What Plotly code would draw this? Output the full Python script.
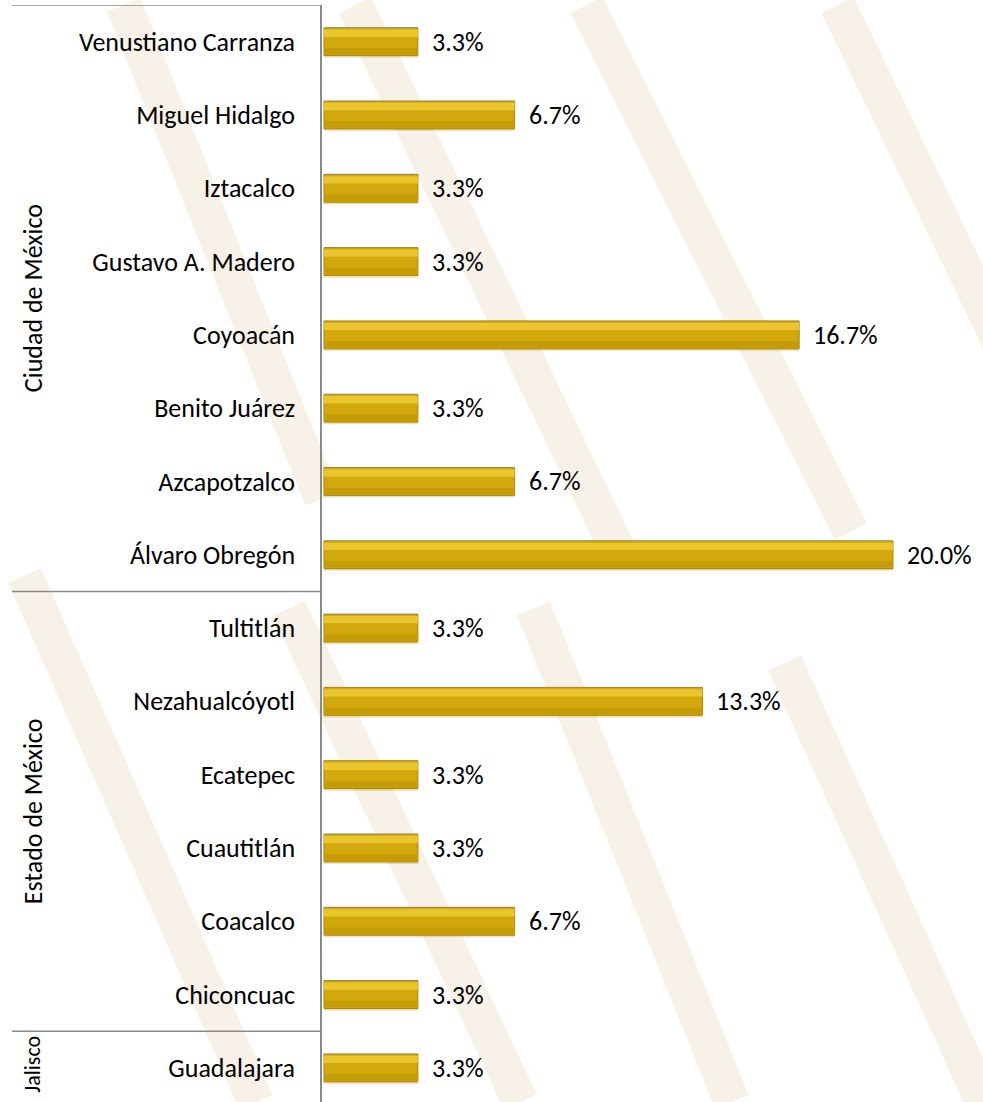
import plotly.graph_objects as go

categories = ["Venustiano Carranza", "Miguel Hidalgo", "Iztacalco", "Gustavo A. Madero",
              "Coyoacán", "Benito Juárez", "Azcapotzalco", "Álvaro Obregón",
              "Tultitlán", "Nezahualcóyotl", "Ecatepec", "Cuautitlán", "Coacalco",
              "Chiconcuac", "Guadalajara"]
values = [3.3, 6.7, 3.3, 3.3, 16.7, 3.3, 6.7, 20.0,
          3.3, 13.3, 3.3, 3.3, 6.7, 3.3, 3.3]
groups = ["Ciudad de México", "Estado de México", "Jalisco"]
group_sizes = [8, 6, 1]

FONT = "Carlito, Calibri, Lato, sans-serif"
FS = 26
W, H = 983, 1102
L, T = 322, 5
pw = W - L

fig = go.Figure()

# soft shadow (below the bar; y axis is reversed)
fig.add_trace(go.Bar(y=categories, x=values, orientation="h", width=0.37, offset=-0.15,
                     marker=dict(color="rgba(110,100,80,0.20)", line=dict(width=0)),
                     hoverinfo="skip", showlegend=False))
# main bar
fig.add_trace(go.Bar(y=categories, x=values, orientation="h", width=0.38, offset=-0.19,
                     marker=dict(color="#D3A80C", line=dict(color="#A88503", width=1)),
                     showlegend=False))
# lower darker band
fig.add_trace(go.Bar(y=categories, x=values, orientation="h", width=0.09, offset=0.085,
                     marker=dict(color="#C49C08", line=dict(width=0)),
                     hoverinfo="skip", showlegend=False))
# highlight
fig.add_trace(go.Bar(y=categories, x=values, orientation="h", width=0.10, offset=-0.165,
                     marker=dict(color="#EAC52E", line=dict(width=0)),
                     hoverinfo="skip", showlegend=False))

for c, v in zip(categories, values):
    fig.add_annotation(x=v, y=c, text=f"{v:.1f}%", showarrow=False, xanchor="left",
                       xshift=12, font=dict(family=FONT, size=FS, color="#000"))

def px_to_paper(px):
    return (px - L) / pw

fig.add_shape(type="line", xref="paper", yref="y", x0=px_to_paper(12), x1=0,
              y0=-0.5, y1=-0.5, line=dict(color="#8a8a8a", width=1.5))
start = 0
for g, n in zip(groups, group_sizes):
    end = start + n
    yc = (start + end - 1) / 2
    shift = 3 if n == 1 else 0
    fig.add_annotation(xref="paper", yref="y", x=px_to_paper(33), y=yc,
                       xanchor="center", yanchor="middle", yshift=shift,
                       text=g, textangle=-90, showarrow=False,
                       font=dict(family=FONT, size=FS if n > 1 else FS - 4, color="#000"))
    if end < len(categories):
        fig.add_shape(type="line", xref="paper", yref="y", x0=px_to_paper(12), x1=0,
                      y0=end - 0.5, y1=end - 0.5, line=dict(color="#8a8a8a", width=1.5))
    start = end

# watermark-like background stripes (decorative)
wm = "#F7F1E8"
stripes = [(-0.30, 1.00, 0.00, 0.55), (0.05, 1.00, 0.45, 0.50), (0.40, 1.00, 0.80, 0.52),
           (0.78, 1.00, 1.10, 0.60), (-0.45, 0.48, -0.10, 0.00), (-0.05, 0.45, 0.30, 0.00),
           (0.32, 0.45, 0.62, 0.00), (0.70, 0.40, 1.00, 0.00)]
for x0, y0, x1, y1 in stripes:
    fig.add_shape(type="line", xref="paper", yref="paper",
                  x0=x0, y0=y0, x1=x1, y1=y1,
                  line=dict(color=wm, width=36), layer="below")

fig.update_layout(
    width=W, height=H, margin=dict(l=L, r=0, t=T, b=0),
    paper_bgcolor="white", plot_bgcolor="rgba(0,0,0,0)",
    barmode="overlay", showlegend=False,
    xaxis=dict(range=[-0.07, pw / 28.45 - 0.07], visible=False, fixedrange=True),
    yaxis=dict(type="category", categoryorder="array", categoryarray=categories,
               range=[14.466, -0.5], showline=True, linecolor="#8a8a8a", linewidth=1.5,
               ticks="", showgrid=False, zeroline=False, ticklabelstandoff=20,
               automargin=False, fixedrange=True,
               tickfont=dict(family=FONT, size=FS, color="#000")),
)

fig.write_html("out.html", config={"displayModeBar": False},
               post_script="document.body.style.margin='0';document.body.style.overflow='hidden';")
